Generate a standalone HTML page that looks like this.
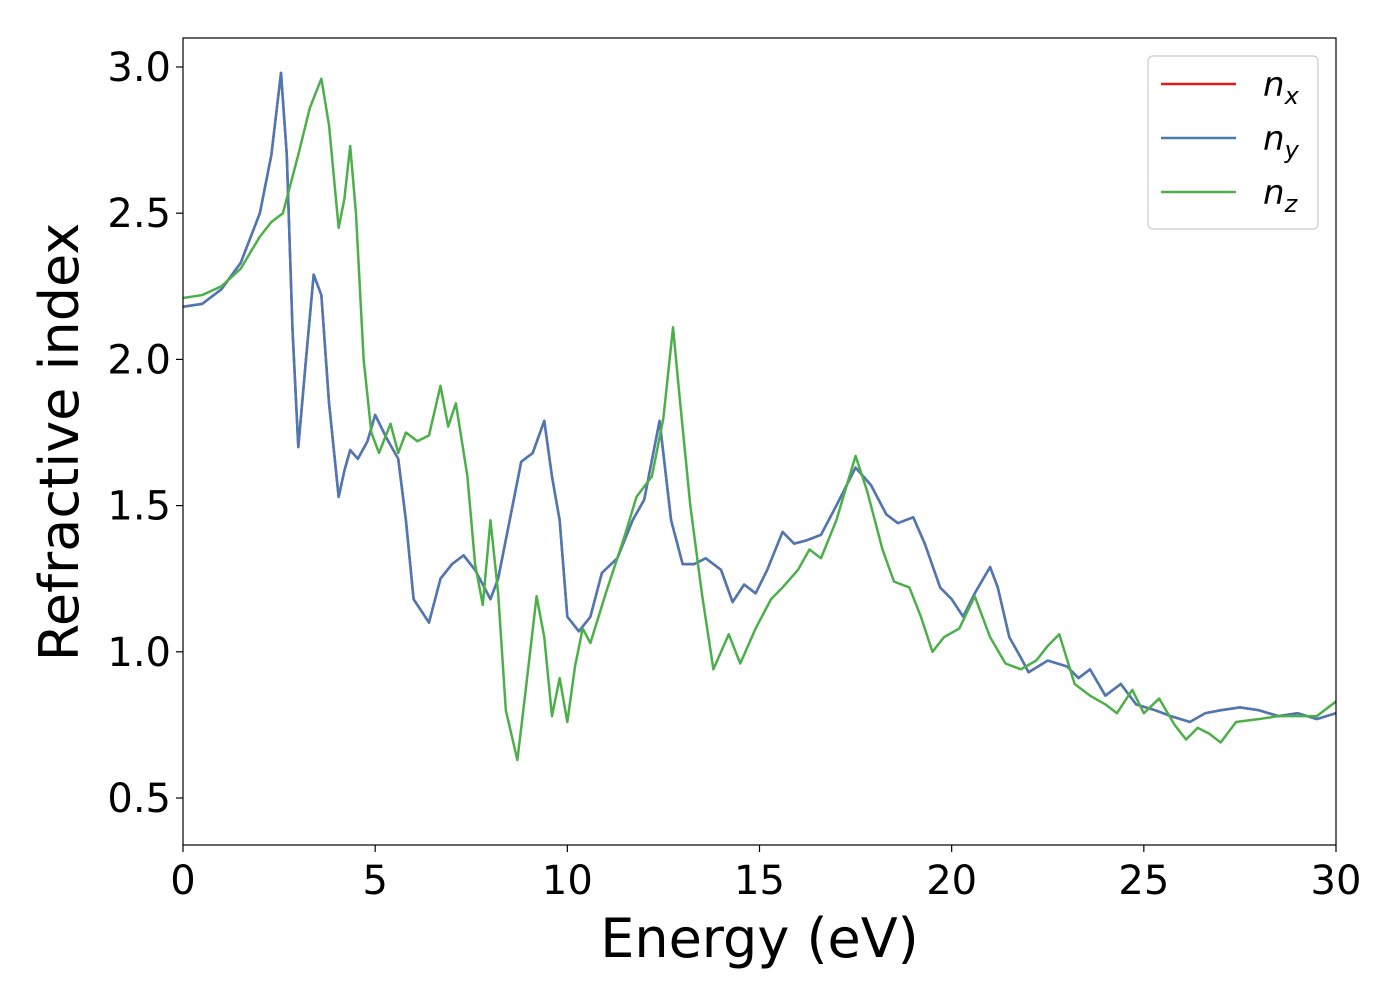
<!DOCTYPE html>
<html><head><meta charset="utf-8">
<style>
body{margin:0;background:#fff;}
svg text{font-family:"DejaVu Sans","Liberation Sans",sans-serif;fill:#000;}
</style></head>
<body>
<svg id="chart" width="1400" height="1000" xmlns="http://www.w3.org/2000/svg">
<g id="plot"></g>
</svg>
<script>
const xTicks=[0,5,10,15,20,25,30];
const yTicks=[0.5,1.0,1.5,2.0,2.5,3.0];
const xyEnergy=[0,0.5,1,1.5,2,2.3,2.55,2.7,2.85,3.0,3.2,3.4,3.6,3.8,4.05,4.2,4.35,4.55,4.8,5.0,5.3,5.6,5.8,6.0,6.2,6.4,6.7,7.0,7.3,7.6,8.0,8.2,8.5,8.8,9.1,9.4,9.6,9.8,10.0,10.3,10.6,10.9,11.3,11.7,12.0,12.4,12.7,13.0,13.3,13.6,14.0,14.3,14.6,14.9,15.2,15.6,15.9,16.2,16.6,17.0,17.5,17.9,18.3,18.6,19.0,19.3,19.7,20.0,20.3,20.6,21.0,21.2,21.5,21.8,22.0,22.5,23.0,23.3,23.6,24.0,24.4,24.8,25.3,25.7,26.2,26.6,27.0,27.5,28.0,28.5,29.0,29.5,30];
const nxValues=[2.18,2.19,2.24,2.33,2.5,2.7,2.98,2.7,2.1,1.70,2.0,2.29,2.22,1.85,1.53,1.62,1.69,1.66,1.72,1.81,1.73,1.66,1.45,1.18,1.14,1.10,1.25,1.30,1.33,1.28,1.18,1.25,1.45,1.65,1.68,1.79,1.60,1.45,1.12,1.07,1.12,1.27,1.32,1.45,1.52,1.79,1.45,1.30,1.30,1.32,1.28,1.17,1.23,1.20,1.28,1.41,1.37,1.38,1.40,1.50,1.63,1.57,1.47,1.44,1.46,1.37,1.22,1.18,1.12,1.20,1.29,1.22,1.05,0.98,0.93,0.97,0.95,0.91,0.94,0.85,0.89,0.82,0.80,0.78,0.76,0.79,0.80,0.81,0.80,0.78,0.79,0.77,0.79];
const nyValues=nxValues.slice();
const zEnergy=[0,0.5,1,1.5,2,2.3,2.6,3.0,3.3,3.6,3.8,4.05,4.2,4.35,4.5,4.7,4.9,5.1,5.4,5.6,5.8,6.1,6.4,6.7,6.9,7.1,7.4,7.6,7.8,8.0,8.2,8.4,8.7,8.9,9.2,9.4,9.6,9.8,10.0,10.2,10.4,10.6,11.0,11.5,11.8,12.2,12.5,12.75,12.9,13.2,13.5,13.8,14.2,14.5,14.9,15.3,15.6,16.0,16.3,16.6,17.0,17.5,17.8,18.2,18.5,18.9,19.2,19.5,19.8,20.2,20.6,21.0,21.4,21.8,22.2,22.5,22.8,23.2,23.6,24.0,24.3,24.7,25.0,25.4,25.8,26.1,26.4,26.7,27.0,27.4,28.0,28.5,29.0,29.5,30];
const nzValues=[2.21,2.22,2.25,2.31,2.42,2.47,2.50,2.70,2.86,2.96,2.80,2.45,2.55,2.73,2.50,2.00,1.75,1.68,1.78,1.68,1.75,1.72,1.74,1.91,1.77,1.85,1.60,1.30,1.16,1.45,1.20,0.80,0.63,0.85,1.19,1.05,0.78,0.91,0.76,0.95,1.08,1.03,1.20,1.40,1.53,1.60,1.80,2.11,1.90,1.50,1.20,0.94,1.06,0.96,1.08,1.18,1.22,1.28,1.35,1.32,1.45,1.67,1.55,1.35,1.24,1.22,1.12,1.00,1.05,1.08,1.19,1.05,0.96,0.94,0.97,1.02,1.06,0.89,0.85,0.82,0.79,0.87,0.79,0.84,0.75,0.70,0.74,0.72,0.69,0.76,0.77,0.78,0.78,0.78,0.83];

const L=183,R=1336,T=38,B=845;
const sx=v=>L+(v-0)/(30-0)*(R-L);
const sy=v=>798+(0.5-v)*(798-67)/2.5;
const NS="http://www.w3.org/2000/svg";
const g=document.getElementById('plot');
function mk(tag,attrs){const e=document.createElementNS(NS,tag);for(const k in attrs)e.setAttribute(k,attrs[k]);g.appendChild(e);return e;}

const clip=document.createElementNS(NS,'clipPath');clip.setAttribute('id','cp');
const cr=document.createElementNS(NS,'rect');cr.setAttribute('x',L);cr.setAttribute('y',T);cr.setAttribute('width',R-L);cr.setAttribute('height',B-T);clip.appendChild(cr);g.appendChild(clip);

function line(xs,ys,color,name){
  const p=mk('polyline',{points:xs.map((x,i)=>sx(x)+','+sy(ys[i])).join(' '),fill:'none',stroke:color,'stroke-width':2.5,'stroke-linejoin':'round','clip-path':'url(#cp)'});
  
  
}
line(xyEnergy,nxValues,'#e41a1c','series-nx');
line(xyEnergy,nyValues,'#4a7ab5','series-ny');
line(zEnergy,nzValues,'#4daf4a','series-nz');

const fr=mk('rect',{x:L,y:T,width:R-L,height:B-T,fill:'none',stroke:'#000','stroke-width':1.2});



xTicks.forEach(v=>{
  mk('line',{x1:sx(v),x2:sx(v),y1:B,y2:B+7,stroke:'#000','stroke-width':1.2});
  const t=mk('text',{x:sx(v),y:B+49,'text-anchor':'middle','font-size':40});t.textContent=v;
  
  
});
yTicks.forEach(v=>{
  mk('line',{x1:L-7,x2:L,y1:sy(v),y2:sy(v),stroke:'#000','stroke-width':1.2});
  const t=mk('text',{x:L-12,y:sy(v)+14,'text-anchor':'end','font-size':40});t.textContent=v.toFixed(1);
  
  
});
const xt=mk('text',{x:(L+R)/2,y:957,'text-anchor':'middle','font-size':54});xt.textContent='Energy (eV)';


const yt=mk('text',{x:0,y:0,'text-anchor':'middle','font-size':54,transform:'translate(78,442) rotate(-90)'});yt.textContent='Refractive index';



const lg=mk('rect',{x:1148,y:56,width:170,height:173,rx:5,fill:'#fff',stroke:'#ccc','stroke-width':1.2});


[['#e41a1c','x',84],['#4a7ab5','y',138],['#4daf4a','z',192]].forEach(([c,s,y])=>{
  mk('line',{x1:1161,x2:1236,y1:y,y2:y,stroke:c,'stroke-width':2.5});
  const t=mk('text',{x:1263,y:y+12,'font-size':34,'font-style':'italic'});
  t.innerHTML='n<tspan font-size="24" dy="8">'+s+'</tspan>';
  
  
});
</script>
</body></html>
